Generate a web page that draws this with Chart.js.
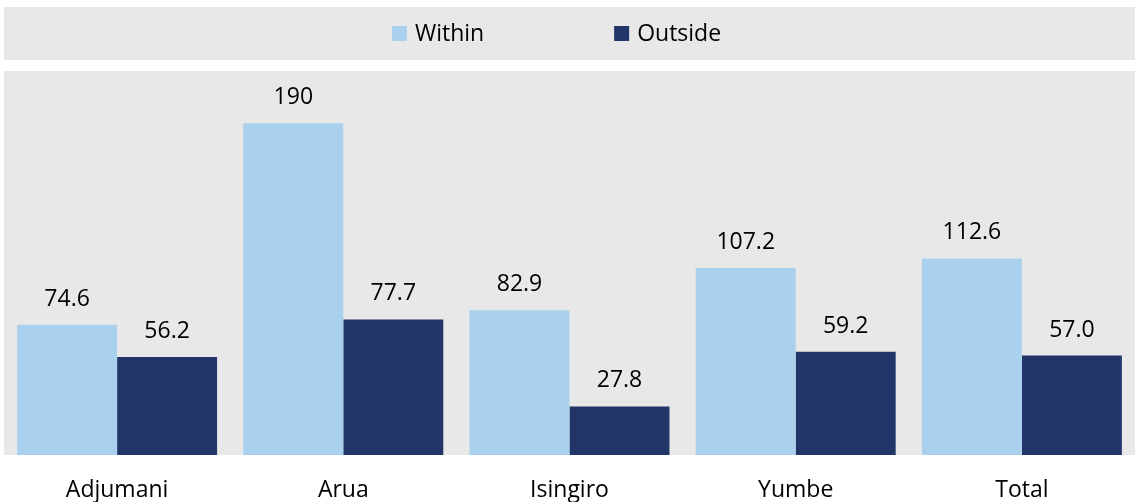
<!DOCTYPE html>
<html>
<head>
<meta charset="utf-8">
<script src="https://cdn.jsdelivr.net/npm/chart.js@4"></script>
<style>
  html, body { margin: 0; padding: 0; background: #fff; }
  #wrap { width: 1135px; height: 502px; }
</style>
</head>
<body>
<div id="wrap"><canvas id="chart"></canvas></div>
<script>
const districts = ["Adjumani", "Arua", "Isingiro", "Yumbe", "Total"]
const withinValues = [74.6, 190, 82.9, 107.2, 112.6]
const outsideValues = [56.2, 77.7, 27.8, 59.2, 57.0]
const withinLabels = ["74.6", "190", "82.9", "107.2", "112.6"]
const outsideLabels = ["56.2", "77.7", "27.8", "59.2", "57.0"]

const fontFamily = "'Open Sans', 'Noto Sans', sans-serif"
const fontSize = 23

// grey panels behind the legend and the plot, plus the legend itself
const panels = {
    id: 'panels',
    beforeDraw(chart) {
        const ctx = chart.ctx
        const area = chart.chartArea
        ctx.save()
        ctx.fillStyle = '#e8e8e8'
        ctx.fillRect(4, 7, chart.width - 4, 53)
        ctx.fillRect(area.left, area.top, area.right - area.left, area.bottom - area.top)

        ctx.font = fontSize + "px " + fontFamily
        ctx.textBaseline = 'alphabetic'
        const items = chart.data.datasets.map(ds => ({
            text: ds.label,
            color: ds.backgroundColor,
            w: 15 + 8 + ctx.measureText(ds.label).width
        }))
        const gap = 130
        const total = items.reduce((s, it) => s + it.w, 0) + gap * (items.length - 1)
        let x = (area.left + area.right) / 2 - total / 2 - 13
        items.forEach(it => {
            ctx.fillStyle = it.color
            ctx.fillRect(x, 26, 15, 15)
            ctx.fillStyle = '#000'
            ctx.fillText(it.text, x + 23, 41)
            x += it.w + gap
        })
        ctx.restore()
    }
}

// value labels above each bar
const valueLabels = {
    id: 'valueLabels',
    afterDatasetsDraw(chart) {
        const ctx = chart.ctx
        const texts = [withinLabels, outsideLabels]
        ctx.save()
        ctx.font = fontSize + "px " + fontFamily
        ctx.fillStyle = '#000'
        ctx.textAlign = 'center'
        ctx.textBaseline = 'alphabetic'
        chart.data.datasets.forEach((ds, i) => {
            chart.getDatasetMeta(i).data.forEach((bar, j) => {
                ctx.fillText(texts[i][j], bar.x, bar.y - 19)
            })
        })
        ctx.restore()
    }
}

new Chart(document.getElementById('chart'), {
    type: 'bar',
    data: {
        labels: districts,
        datasets: [
            { label: 'Within', data: withinValues, backgroundColor: '#a9d1ed', borderWidth: 0 },
            { label: 'Outside', data: outsideValues, backgroundColor: '#213569', borderWidth: 0 }
        ]
    },
    options: {
        responsive: true,
        maintainAspectRatio: false,
        animation: false,
        layout: { padding: { top: 71, left: 4, right: 0, bottom: 0 } },
        datasets: { bar: { categoryPercentage: 0.884, barPercentage: 1.0 } },
        plugins: {
            tooltip: { enabled: false },
            legend: { display: false }
        },
        scales: {
            x: {
                grid: { display: false, drawTicks: false },
                border: { display: false },
                ticks: { color: '#000', padding: 22, font: { size: fontSize, family: fontFamily, lineHeight: 1.2 } },
                afterFit: (scale) => { scale.height = 47 }
            },
            y: {
                display: false,
                min: 0,
                max: 220
            }
        }
    },
    plugins: [panels, valueLabels]
})
</script>
</body>
</html>
